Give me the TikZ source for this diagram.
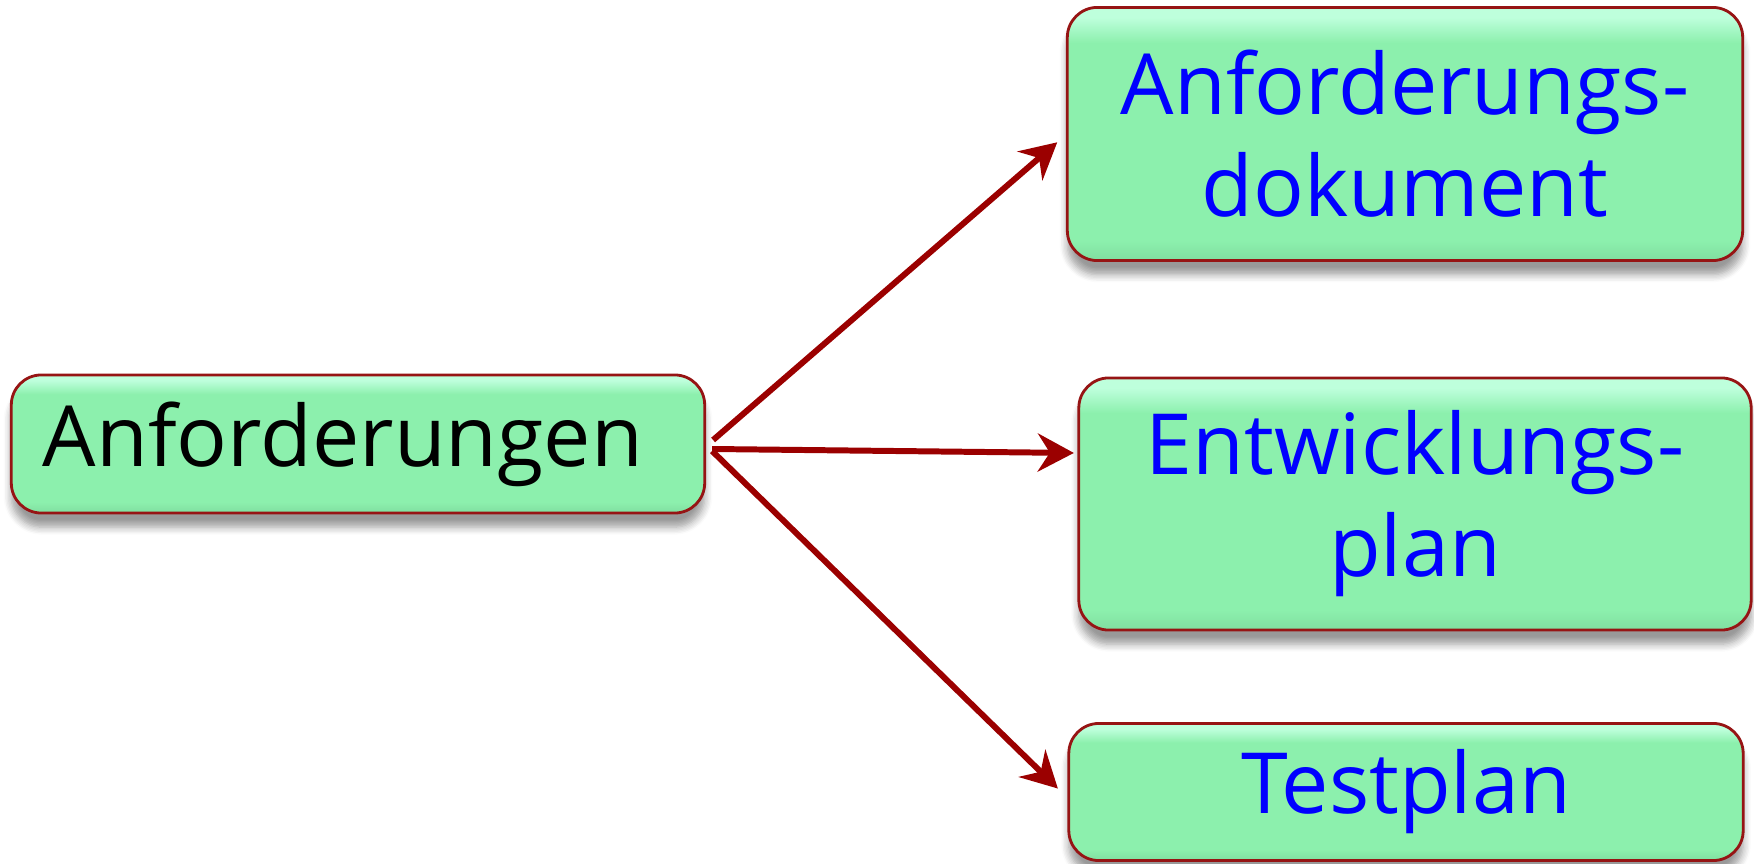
\documentclass[tikz,border=0pt]{standalone}
\usepackage{fontspec}
\setmainfont{Open Sans}
\usetikzlibrary{arrows.meta,calc,shadows.blur}

\definecolor{boxgreen}{RGB}{140,240,173}
\definecolor{boxlight}{RGB}{190,255,220}
\definecolor{boxdark}{RGB}{128,222,160}
\definecolor{boxrim}{RGB}{150,20,20}
\definecolor{arrowred}{RGB}{155,0,0}

% light band on top, flat body, slightly darker foot
\pgfdeclareverticalshading{boxshade}{100bp}{color(0bp)=(boxdark); color(25bp)=(boxdark);
  color(29bp)=(boxgreen); color(68bp)=(boxgreen); color(73bp)=(boxlight); color(100bp)=(boxlight)}

\tikzset{
  greenbox/.style={rectangle, rounded corners=0.3cm, draw=boxrim, line width=0.8pt,
    shading=boxshade,
    blur shadow={shadow xshift=0pt, shadow yshift=-4pt, shadow blur steps=6},
    font=\fontsize{24}{29}\selectfont, align=center, inner sep=0pt},
  feed/.style={draw=arrowred, line width=1.7pt,
    -{Stealth[length=0.36cm, width=0.38cm, inset=0.12cm]}}
}

\begin{document}
\begin{tikzpicture}[x=0.01cm, y=-0.01cm]
\useasboundingbox (0,0) rectangle (1754,864);

\node[greenbox, minimum width=6.93cm, minimum height=1.38cm] (anf)
          at (358,444) {\hspace*{-0.3cm}Anforderungen};

\node[greenbox, text=blue, minimum width=6.75cm, minimum height=2.53cm] (dok)
          at (1405,134) {Anforderungs-\\dokument};

\node[greenbox, text=blue, minimum width=6.72cm, minimum height=2.52cm] (plan)
          at (1415,504) {Entwicklungs-\\plan};

\node[greenbox, text=blue, minimum width=6.74cm, minimum height=1.37cm] (test)
          at (1406,792) {Testplan};

\draw[feed, shorten >=1pt] ($(anf.east)+(7,-4)$) -- ($(dok.west)+(-6,6)$);
\draw[feed, shorten >=1pt] ($(anf.east)+(6,5)$) -- ($(plan.north west)!0.3!(plan.south west)$);
\draw[feed, shorten >=1pt] ($(anf.east)+(6,7)$) -- ($(test.west)+(-7,-1)$);
\end{tikzpicture}
\end{document}
